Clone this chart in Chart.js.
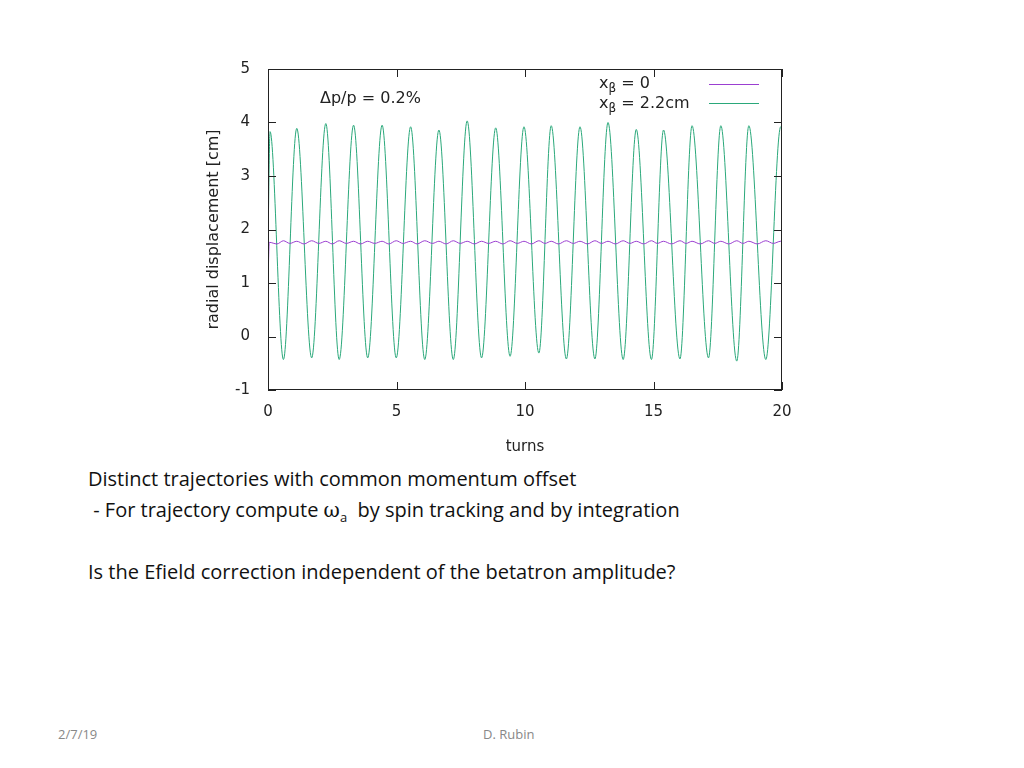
<!DOCTYPE html>
<html>
<head>
<meta charset="utf-8">
<script src="https://cdn.jsdelivr.net/npm/chart.js@4"></script>
<style>
  body { margin: 0; width: 1024px; height: 768px; background: #fff; position: relative; overflow: hidden; font-family: "DejaVu Sans", sans-serif; }
  #wrap { position: absolute; left: 200px; top: 50px; width: 600px; height: 410px; }
  .lbl { position: absolute; font-size: 16px; color: #222; white-space: nowrap; }
  .key { position: absolute; height: 1px; width: 50px; }
  .slide { position: absolute; font-family: "Open Sans", sans-serif; font-size: 20px; color: #111; white-space: nowrap; }
  .foot { position: absolute; font-family: "Open Sans", sans-serif; font-size: 13px; color: #888; }
</style>
</head>
<body>
<div id="wrap"><canvas id="chart"></canvas></div>

<div class="lbl" style="left:320px;top:88px">Δp/p = 0.2%</div>
<div class="lbl" style="left:599px;top:73px">x<sub style="font-size:12px">β</sub> = 0</div>
<div class="lbl" style="left:599px;top:93px">x<sub style="font-size:12px">β</sub> = 2.2cm</div>
<div class="key" style="left:709px;top:84px;background:#9b3fd1"></div>
<div class="key" style="left:709px;top:103px;background:#2aa87a"></div>

<div class="slide" style="left:88px;top:465px">Distinct trajectories with common momentum offset</div>
<div class="slide" style="left:88px;top:496px">&nbsp;- For trajectory compute <span style="font-family:'DejaVu Serif',serif">ω</span><sub style="font-size:13px">a</sub>&nbsp; by spin tracking and by integration</div>
<div class="slide" style="left:88px;top:558px">Is the Efield correction independent of the betatron amplitude?</div>
<div class="foot" style="left:58px;top:725px">2/7/19</div>
<div class="foot" style="left:483px;top:725px">D. Rubin</div>

<script>
// ─── Dados ────────────────────────────────────────────────────────────────────
const X_TICKS = [0, 5, 10, 15, 20];
const Y_TICKS = [-1, 0, 1, 2, 3, 4, 5];

// x_beta = 2.2cm : extremos da oscilação (turns, cm)
const verdeX = [0, 0.08, 0.6, 1.12, 1.70, 2.25, 2.77, 3.33, 3.88, 4.44, 4.99, 5.55, 6.10, 6.65, 7.21, 7.75, 8.31, 8.86, 9.42, 9.96,
                10.54, 11.02, 11.61, 12.14, 12.72, 13.23, 13.82, 14.33, 14.92, 15.39, 16.03, 16.50, 17.14, 17.62, 18.24, 18.71, 19.37, 19.95, 20];
const verdeY = [1.75, 3.83, -0.43, 3.89, -0.40, 3.98, -0.43, 3.95, -0.40, 3.95, -0.40, 3.92, -0.43, 3.86, -0.43, 4.03, -0.40, 3.90, -0.37, 3.92,
                -0.31, 3.94, -0.42, 3.92, -0.42, 4.00, -0.43, 3.87, -0.43, 3.86, -0.42, 3.94, -0.40, 3.94, -0.46, 3.94, -0.43, 3.92, 3.90];

// x_beta = 0 : pequena ondulação em torno de 1.76
const roxoX = [0, 0.05, 0.35, 0.6, 0.85, 1.12, 1.40, 1.70, 1.98, 2.25, 2.50, 2.77, 3.05, 3.33, 3.60, 3.88, 4.15, 4.44, 4.70, 4.99,
               5.25, 5.55, 5.80, 6.10, 6.40, 6.65, 6.93, 7.21, 7.48, 7.75, 8.03, 8.31, 8.58, 8.86, 9.14, 9.42, 9.70, 9.96,
               10.25, 10.54, 10.78, 11.02, 11.30, 11.61, 11.88, 12.14, 12.43, 12.72, 12.98, 13.23, 13.52, 13.82, 14.08, 14.33,
               14.62, 14.92, 15.15, 15.39, 15.70, 16.03, 16.27, 16.50, 16.82, 17.14, 17.38, 17.62, 17.93, 18.24, 18.48, 18.71,
               19.04, 19.37, 19.66, 19.95, 20];
const roxoY = [1.0, 1.76, 1.73, 1.79, 1.74, 1.78, 1.73, 1.79, 1.74, 1.78, 1.73, 1.79, 1.74, 1.78, 1.73, 1.78, 1.74, 1.78, 1.73, 1.79,
               1.74, 1.78, 1.73, 1.79, 1.74, 1.78, 1.73, 1.79, 1.74, 1.78, 1.73, 1.78, 1.74, 1.78, 1.73, 1.79, 1.74, 1.78,
               1.73, 1.79, 1.74, 1.78, 1.73, 1.79, 1.74, 1.78, 1.73, 1.79, 1.74, 1.78, 1.73, 1.79, 1.74, 1.78,
               1.73, 1.79, 1.74, 1.78, 1.73, 1.79, 1.74, 1.78, 1.73, 1.79, 1.74, 1.78, 1.73, 1.79, 1.74, 1.78,
               1.73, 1.79, 1.74, 1.78, 1.76];

const pts = (xs, ys) => xs.map((x, i) => ({ x, y: ys[i] }));

// ─── Ticks internos estilo gnuplot + moldura ─────────────────────────────────
const ticksInternos = {
  id: 'ticksInternos',
  afterDraw(chart) {
    const { ctx, chartArea: a, scales } = chart;
    ctx.save();
    ctx.strokeStyle = '#222';
    ctx.lineWidth = 1;
    ctx.strokeRect(a.left + 0.5, a.top + 0.5, a.right - a.left - 1, a.bottom - a.top - 1);
    ctx.beginPath();
    X_TICKS.forEach(v => {
      const p = Math.round(scales.x.getPixelForValue(v)) + 0.5;
      ctx.moveTo(p, a.bottom); ctx.lineTo(p, a.bottom - 8);
      ctx.moveTo(p, a.top); ctx.lineTo(p, a.top + 8);
    });
    Y_TICKS.forEach(v => {
      const p = Math.round(scales.y.getPixelForValue(v)) + 0.5;
      ctx.moveTo(a.left, p); ctx.lineTo(a.left + 8, p);
      ctx.moveTo(a.right, p); ctx.lineTo(a.right - 8, p);
    });
    ctx.stroke();
    ctx.restore();
  },
};

new Chart(document.getElementById('chart'), {
  type: 'scatter',
  data: {
    datasets: [
      { label: 'x_beta = 0', data: pts(roxoX, roxoY), borderColor: '#9b3fd1', borderWidth: 1, showLine: true, pointRadius: 0, cubicInterpolationMode: 'monotone' },
      { label: 'x_beta = 2.2cm', data: pts(verdeX, verdeY), borderColor: '#2aa87a', borderWidth: 1, showLine: true, pointRadius: 0, cubicInterpolationMode: 'monotone' },
    ],
  },
  options: {
    responsive: true,
    maintainAspectRatio: false,
    animation: false,
    layout: { padding: { top: 17, right: 18, bottom: 0, left: 0 } },
    plugins: { legend: { display: false }, tooltip: { enabled: false } },
    scales: {
      x: {
        type: 'linear', min: 0, max: 20,
        afterBuildTicks: s => { s.ticks = X_TICKS.map(value => ({ value })); },
        afterFit: s => { s.height = 70; },
        grid: { display: false },
        border: { display: false },
        ticks: { color: '#222', font: { family: 'DejaVu Sans', size: 15 }, padding: 5 },
        title: { display: true, text: 'turns', color: '#222', font: { family: 'DejaVu Sans', size: 15 }, padding: { top: 6 } },
      },
      y: {
        type: 'linear', min: -1, max: 5,
        afterBuildTicks: s => { s.ticks = Y_TICKS.map(value => ({ value })); },
        afterFit: s => { s.width = 68; },
        grid: { display: false },
        border: { display: false },
        ticks: { color: '#222', font: { family: 'DejaVu Sans', size: 15 }, padding: 10 },
        title: { display: true, text: 'radial displacement [cm]', color: '#222', font: { family: 'DejaVu Sans', size: 16 }, padding: { bottom: 8 } },
      },
    },
  },
  plugins: [ticksInternos],
});
</script>
</body>
</html>
